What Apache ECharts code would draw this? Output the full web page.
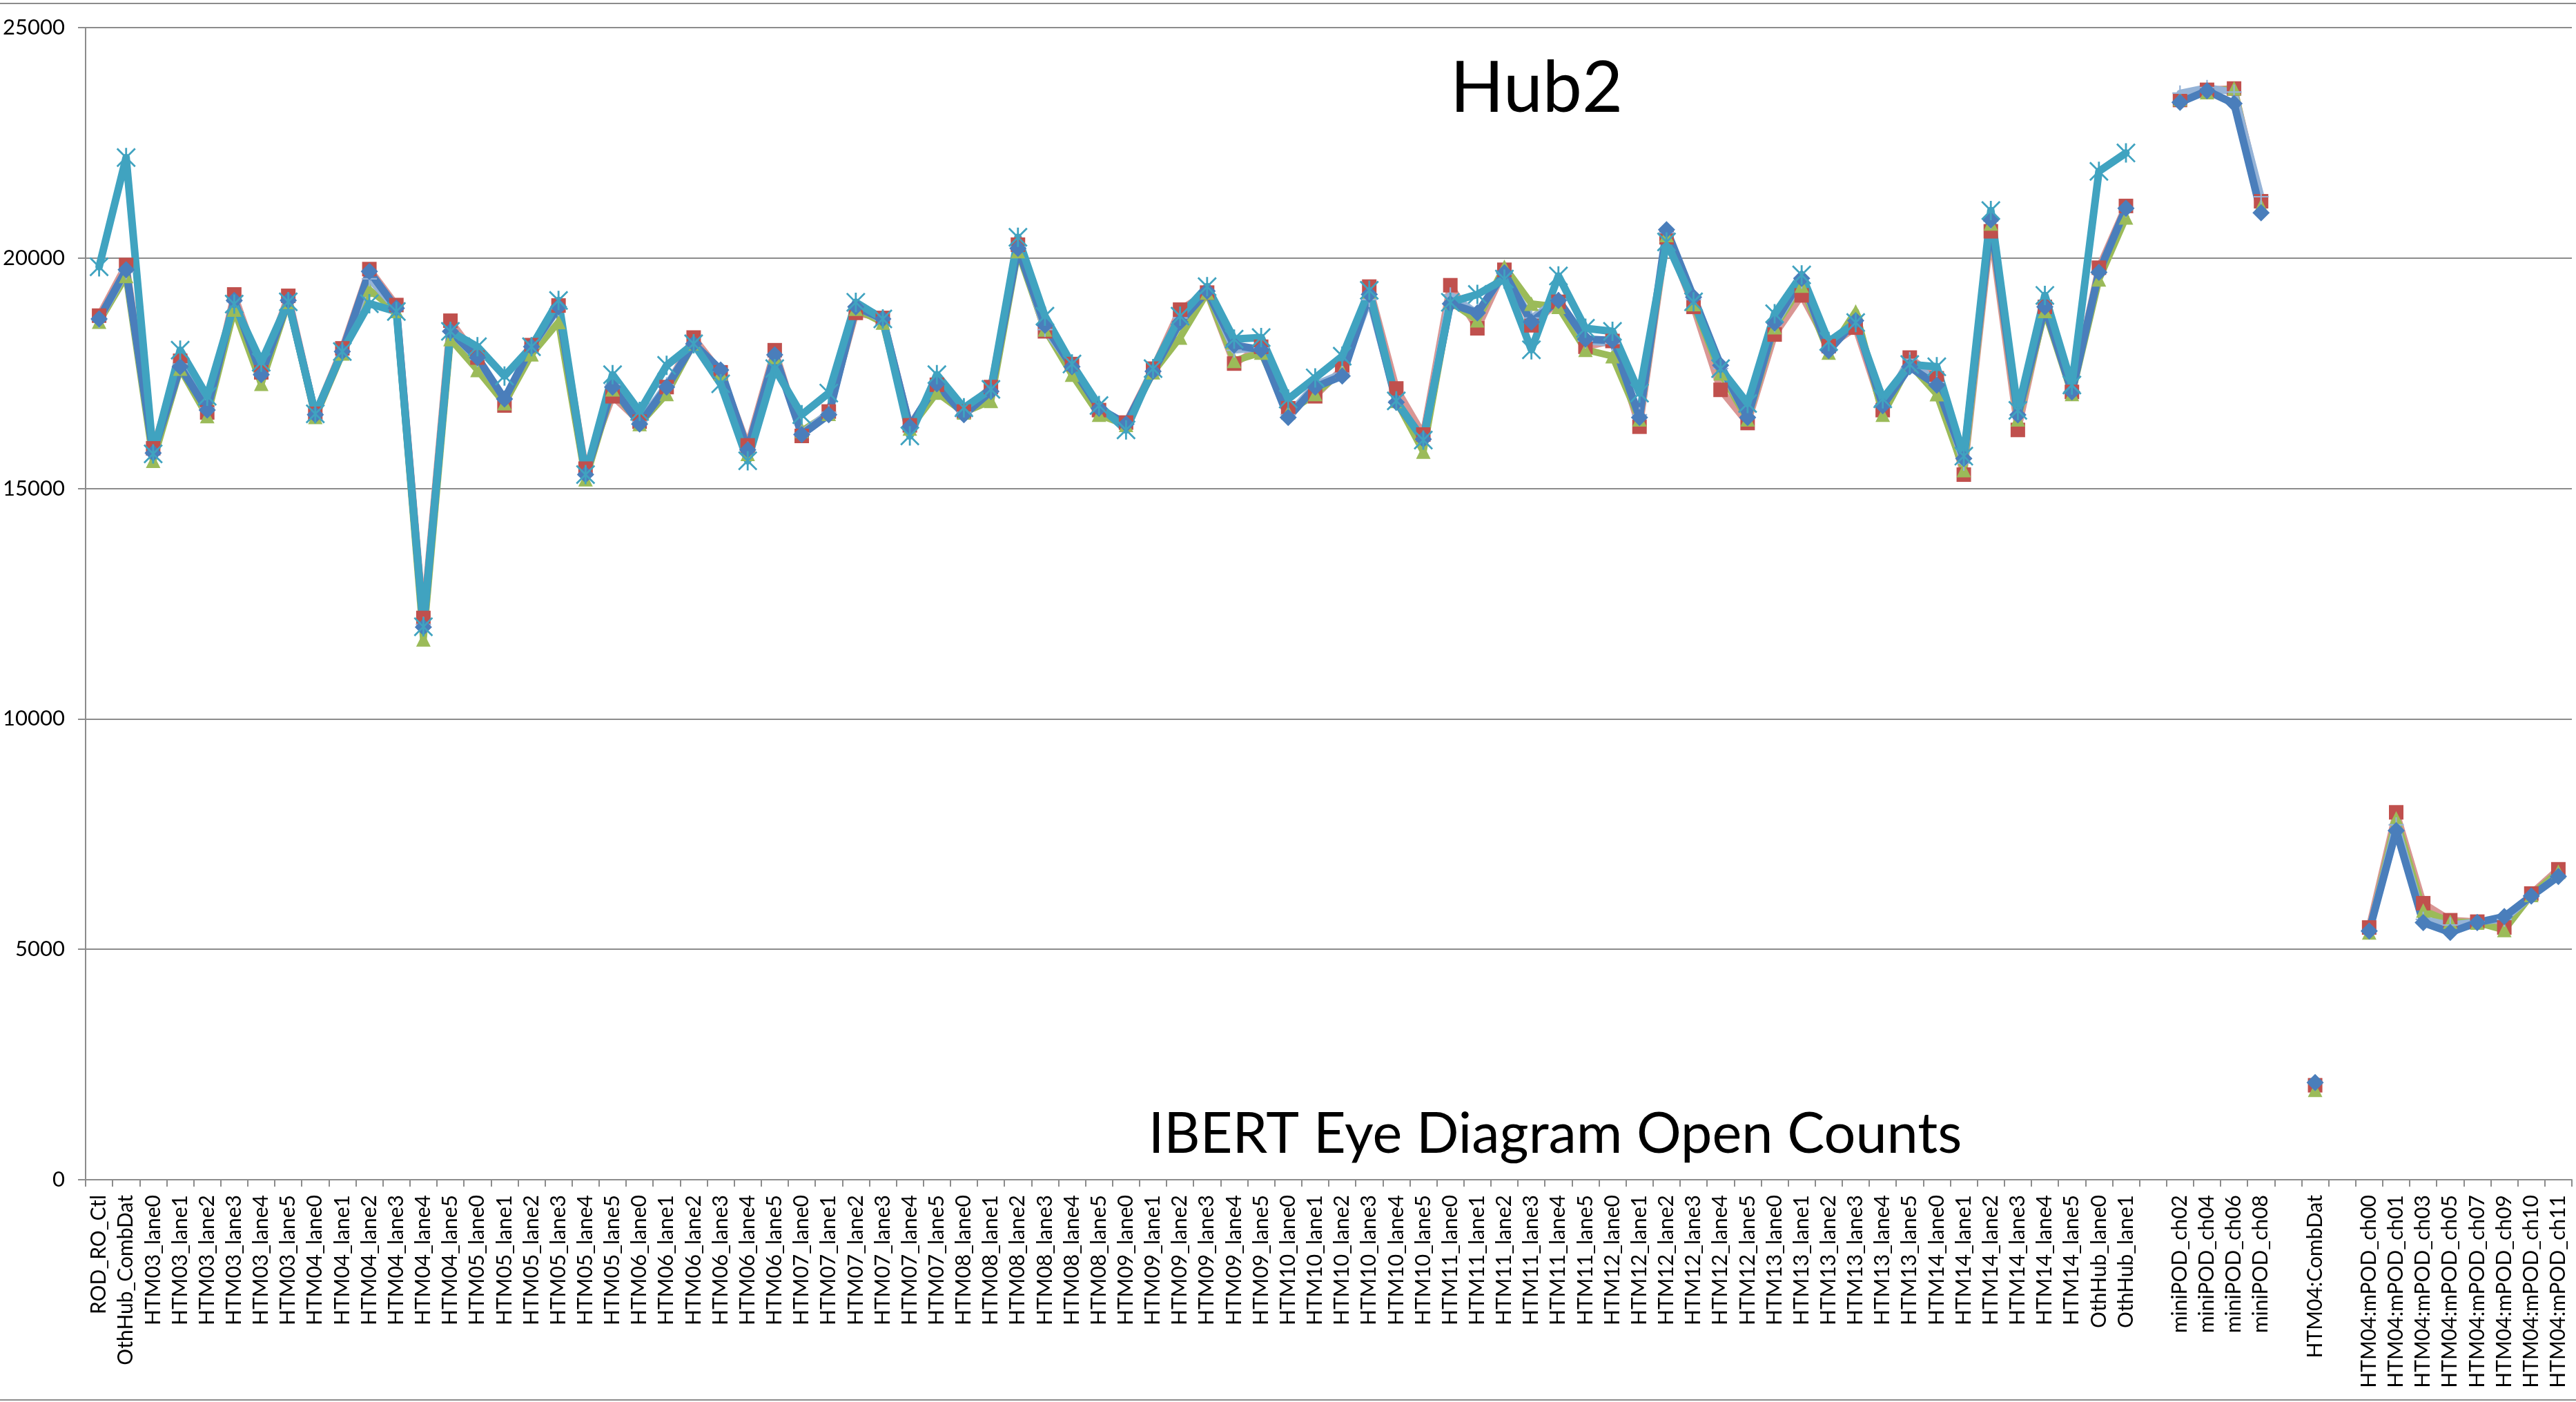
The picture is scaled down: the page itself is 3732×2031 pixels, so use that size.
<!DOCTYPE html>
<html>
<head>
<meta charset="utf-8">
<script src="https://cdn.jsdelivr.net/npm/echarts@6/dist/echarts.min.js"></script>
<style>
html,body{margin:0;padding:0;background:#fff;}
#chart{width:3732px;height:2031px;}
</style>
</head>
<body>
<div id="chart"></div>
<script>
const categories = [
 'ROD_RO_Ctl','OthHub_CombDat',
 'HTM03_lane0','HTM03_lane1','HTM03_lane2','HTM03_lane3','HTM03_lane4','HTM03_lane5',
 'HTM04_lane0','HTM04_lane1','HTM04_lane2','HTM04_lane3','HTM04_lane4','HTM04_lane5',
 'HTM05_lane0','HTM05_lane1','HTM05_lane2','HTM05_lane3','HTM05_lane4','HTM05_lane5',
 'HTM06_lane0','HTM06_lane1','HTM06_lane2','HTM06_lane3','HTM06_lane4','HTM06_lane5',
 'HTM07_lane0','HTM07_lane1','HTM07_lane2','HTM07_lane3','HTM07_lane4','HTM07_lane5',
 'HTM08_lane0','HTM08_lane1','HTM08_lane2','HTM08_lane3','HTM08_lane4','HTM08_lane5',
 'HTM09_lane0','HTM09_lane1','HTM09_lane2','HTM09_lane3','HTM09_lane4','HTM09_lane5',
 'HTM10_lane0','HTM10_lane1','HTM10_lane2','HTM10_lane3','HTM10_lane4','HTM10_lane5',
 'HTM11_lane0','HTM11_lane1','HTM11_lane2','HTM11_lane3','HTM11_lane4','HTM11_lane5',
 'HTM12_lane0','HTM12_lane1','HTM12_lane2','HTM12_lane3','HTM12_lane4','HTM12_lane5',
 'HTM13_lane0','HTM13_lane1','HTM13_lane2','HTM13_lane3','HTM13_lane4','HTM13_lane5',
 'HTM14_lane0','HTM14_lane1','HTM14_lane2','HTM14_lane3','HTM14_lane4','HTM14_lane5',
 'OthHub_lane0','OthHub_lane1',
 '',
 'miniPOD_ch02','miniPOD_ch04','miniPOD_ch06','miniPOD_ch08',
 '',
 'HTM04:CombDat',
 '',
 'HTM04:mPOD_ch00','HTM04:mPOD_ch01','HTM04:mPOD_ch03','HTM04:mPOD_ch05',
 'HTM04:mPOD_ch07','HTM04:mPOD_ch09','HTM04:mPOD_ch10','HTM04:mPOD_ch11'
];

const blueValues = [
 18680,19745,
 15770,17640,16700,19080,17470,19080,
 16600,17970,19710,18910,11990,18410,
 17840,16940,18075,18940,15300,17200,
 16400,17200,18140,17570,15835,17900,
 16170,16600,18940,18680,16340,17270,
 16600,17105,20210,18540,17640,16740,
 16400,17540,18610,19280,18110,18010,
 16540,17200,17440,19210,16870,16070,
 19010,18810,19680,18610,19080,18240,
 18210,16540,20615,19150,17670,16540,
 18590,19560,17990,18640,16795,17640,
 17240,15650,20830,16595,18940,17095,
 19690,21080,
 null,
 23378,23628,23353,20983,
 null,
 2107,
 null,
 5395,7577,5580,5368,5580,5710,6157,6578
];

const redValues = [
 18750,19850,
 15870,17770,16650,19210,17520,19180,
 16620,18040,19760,18980,12190,18640,
 17840,16800,18110,18970,15430,17000,
 16450,17200,18275,17520,15935,18000,
 16140,16670,18810,18700,16370,17250,
 16670,17200,20290,18410,17700,16700,
 16430,17600,18880,19250,17710,18075,
 16740,17000,17600,19380,17170,16170,
 19410,18475,19745,18540,19050,18075,
 18200,16340,20450,18940,17140,16420,
 18340,19190,18090,18490,16700,17840,
 17390,15300,20580,16270,18940,17095,
 19790,21130,
 null,
 23430,23650,23678,21232,
 null,
 2050,
 null,
 5473,7972,6000,5631,5600,5473,6210,6736
];

const greenValues = [
 18620,19610,
 15600,17600,16570,18880,17270,19050,
 16550,17930,19310,18850,11725,18240,
 17570,16850,17910,18610,15200,17150,
 16400,17050,18150,17500,15750,17850,
 16250,16620,18900,18600,16300,17080,
 16650,16900,20150,18450,17470,16600,
 16380,17520,18275,19250,17770,17950,
 16650,17050,17550,19250,16900,15800,
 19050,18650,19810,19010,18940,18010,
 17870,16500,20500,19000,17500,16500,
 18500,19400,17950,18840,16600,17700,
 17045,15400,20750,16500,18850,17050,
 19535,20880,
 null,
 23450,23600,23680,21130,
 null,
 1950,
 null,
 5368,7840,5840,5600,5580,5420,6180,6683
];

const lightBlueValues = [
 18650,19700,
 15750,17700,16750,19050,17500,19100,
 16620,17970,19550,18900,12050,18400,
 17800,16950,18050,18900,15320,17250,
 16450,17250,18150,17550,15850,17900,
 16200,16650,18950,18650,16350,17300,
 16650,17100,20250,18450,17650,16750,
 16400,17550,18700,19300,18000,18050,
 16600,17250,17500,19100,16900,16050,
 19200,18800,19650,18700,19100,18200,
 18150,16600,20550,19100,17600,16550,
 18550,19500,18000,18650,16800,17800,
 17300,15550,20800,16600,18950,17100,
 19700,21050,
 null,
 23580,23700,23600,21330,
 null,
 2100,
 null,
 5400,7700,5650,5526,5600,5650,6150,6600
];

const aquaValues = [
 19810,22180,
 15750,18000,17000,19000,17740,19050,
 16620,17970,19010,18840,12000,18410,
 18075,17440,18075,19080,15300,17470,
 16670,17670,18140,17270,15600,17600,
 16600,17070,19040,18680,16140,17470,
 16750,17150,20450,18740,17700,16800,
 16270,17600,18740,19380,18240,18275,
 16940,17400,17870,19300,16900,16050,
 19040,19210,19545,18010,19610,18475,
 18410,17070,20350,19050,17600,16845,
 18790,19635,18190,18600,16945,17690,
 17640,15700,21030,16695,19190,17245,
 21880,22280,
 null,
 null,null,null,null,
 null,
 null,
 null,
 null,null,null,null,null,null,null,null
];

const yTicks = {min: 0, max: 25000, interval: 5000};

const FONT = 'Lato';
const GRID_GRAY = '#8c8c8c';

const asteriskPath = 'path://M9,0 L11,0 L11,20 L9,20 Z M0,1.4 L1.4,0 L20,18.6 L18.6,20 Z M18.6,0 L20,1.4 L1.4,20 L0,18.6 Z';
const plusPath = 'path://M9,0 L11,0 L11,20 L9,20 Z M0,9 L20,9 L20,11 L0,11 Z';

function mk(name, data, lineColor, markColor, symbol, size, width) {
  return {
    name: name, type: 'line', data: data, connectNulls: false,
    symbol: symbol, symbolSize: size, showSymbol: true,
    lineStyle: {color: lineColor, width: width, join: 'round', cap: 'round'},
    itemStyle: {color: markColor, borderWidth: 0},
    emphasis: {disabled: true},
    animation: false
  };
}

const chart = echarts.init(document.getElementById('chart'), null, {renderer: 'canvas'});
chart.setOption({
  animation: false,
  backgroundColor: '#ffffff',
  grid: {left: 124, right: 6, top: 40, bottom: 322, containLabel: false},
  xAxis: {
    type: 'category', data: categories, boundaryGap: true,
    axisLine: {show: true, lineStyle: {color: GRID_GRAY, width: 2}},
    axisTick: {show: true, interval: 0, length: 10, lineStyle: {color: GRID_GRAY, width: 2}},
    axisLabel: {interval: 0, rotate: 90, margin: 22, fontFamily: FONT, fontSize: 30, color: '#000'},
    splitLine: {show: false}
  },
  yAxis: {
    type: 'value', min: yTicks.min, max: yTicks.max, interval: yTicks.interval,
    axisLine: {show: true, lineStyle: {color: GRID_GRAY, width: 2}},
    axisTick: {show: true, length: 11, lineStyle: {color: GRID_GRAY, width: 2}},
    axisLabel: {margin: 30, fontFamily: FONT, fontSize: 31, color: '#000', formatter: function (v) { return String(v); }},
    splitLine: {show: true, lineStyle: {color: GRID_GRAY, width: 2}}
  },
  graphic: [
    {type: 'rect', shape: {x: -10, y: 5, width: 3752, height: 2023}, style: {fill: 'none', stroke: '#8c8c8c', lineWidth: 2}, z: -1, silent: true},
    {type: 'text', x: 2226, y: 129, style: {text: 'Hub2', fontFamily: FONT, fontSize: 102, fill: '#000', textAlign: 'center', textVerticalAlign: 'middle'}, z: 10},
    {type: 'text', x: 2253, y: 1644, style: {text: 'IBERT Eye Diagram Open Counts', fontFamily: FONT, fontSize: 81, fill: '#000', textAlign: 'center', textVerticalAlign: 'middle'}, z: 10}
  ],
  series: [
    mk('S2', redValues, '#D99694', '#C0504D', 'rect', 21, 10),
    mk('S3', greenValues, '#9BBB59', '#9BBB59', 'triangle', 21, 10),
    mk('S4', lightBlueValues, '#95B3D7', '#95B3D7', plusPath, 22, 10),
    mk('S1', blueValues, '#4A7EBB', '#4A7EBB', 'diamond', 25, 11),
    mk('S5', aquaValues, '#40A3C0', '#40A3C0', asteriskPath, 28, 11)
  ]
});
</script>
</body>
</html>
